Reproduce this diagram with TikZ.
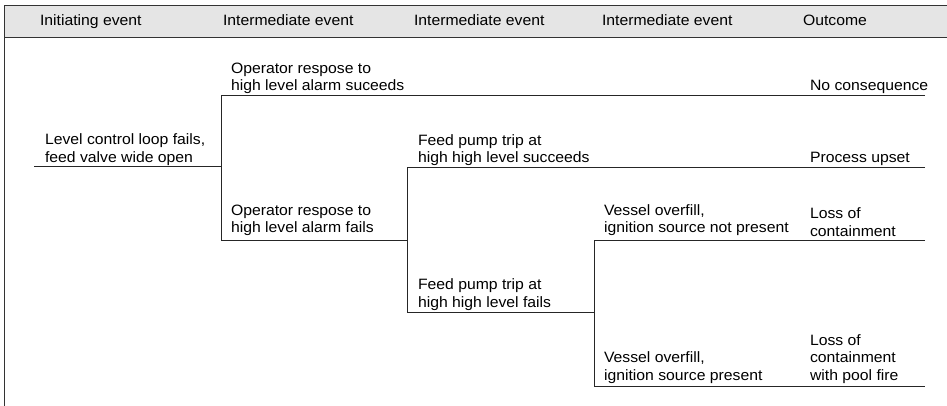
\documentclass[tikz,border=0pt]{standalone}
\usepackage{fontspec}
\setmainfont{Liberation Sans}[FakeStretch=1.05]
\begin{document}
\begin{tikzpicture}[x=1pt,y=-1pt,
  every node/.style={inner sep=0pt, outer sep=0pt},
  lbl/.style={anchor=south west, align=left, text depth=0pt,
    font=\fontsize{15}{17.5}\selectfont},
  hdr/.style={anchor=base west, font=\fontsize{15}{17.5}\selectfont},
  tree/.style={draw=black!85, line width=0.9pt},
  frame/.style={draw=black!80, line width=0.9pt}]
\useasboundingbox (0,0) rectangle (947,406);

% header band
\fill[black!10] (4,5) rectangle (947,37);
\draw[frame] (947,5) -- (4,5) -- (4,406);
\draw[frame] (4,37) -- (947,37);

\node[hdr] (h1) at (40,26) {Initiating event};
\node[hdr] (h2) at (223,26) {Intermediate event};
\node[hdr] (h3) at (414,26) {Intermediate event};
\node[hdr] (h4) at (602,26) {Intermediate event};
\node[hdr] (h5) at (803,26) {Outcome};

% event labels (south = baseline of last line)
\node[lbl] (init)   at (45,162.5)  {Level control loop fails,\\feed valve wide open};
\node[lbl] (opok)   at (231,91)  {Operator respose to\\high level alarm suceeds};
\node[lbl] (opfail) at (231,233) {Operator respose to\\high level alarm fails};
\node[lbl] (fpok)   at (418,163) {Feed pump trip at\\high high level succeeds};
\node[lbl] (fpfail) at (418,307) {Feed pump trip at\\high high level fails};
\node[lbl] (vnp)    at (604,233) {Vessel overfill,\\ignition source not present};
\node[lbl] (vp)     at (604,380) {Vessel overfill,\\ignition source present};

% outcomes
\node[lbl] (o1) at (810,91)  {No consequence};
\node[lbl] (o2) at (810,163) {Process upset};
\node[lbl] (o3) at (810,236) {Loss of\\containment};
\node[lbl] (o4) at (810,380) {Loss of\\containment\\with pool fire};

% branch points and line ends
\coordinate (s0)  at (34,166);
\coordinate (j1)  at (221,166);
\coordinate (j1u) at (221,95);
\coordinate (j1d) at (221,240);
\coordinate (e1)  at (925,95);
\coordinate (j2)  at (407,240);
\coordinate (j2u) at (407,167);
\coordinate (j2d) at (407,312);
\coordinate (e2)  at (925,167);
\coordinate (j3)  at (594,312);
\coordinate (j3u) at (594,240);
\coordinate (j3d) at (594,386);
\coordinate (e3)  at (925,240);
\coordinate (e4)  at (925,386);

% event tree
\draw[tree] (s0) -- (j1);
\draw[tree] (e1) -- (j1u) -- (j1d) -- (j2);
\draw[tree] (e2) -- (j2u) -- (j2d) -- (j3);
\draw[tree] (e3) -- (j3u) -- (j3d) -- (e4);
\end{tikzpicture}
\end{document}
